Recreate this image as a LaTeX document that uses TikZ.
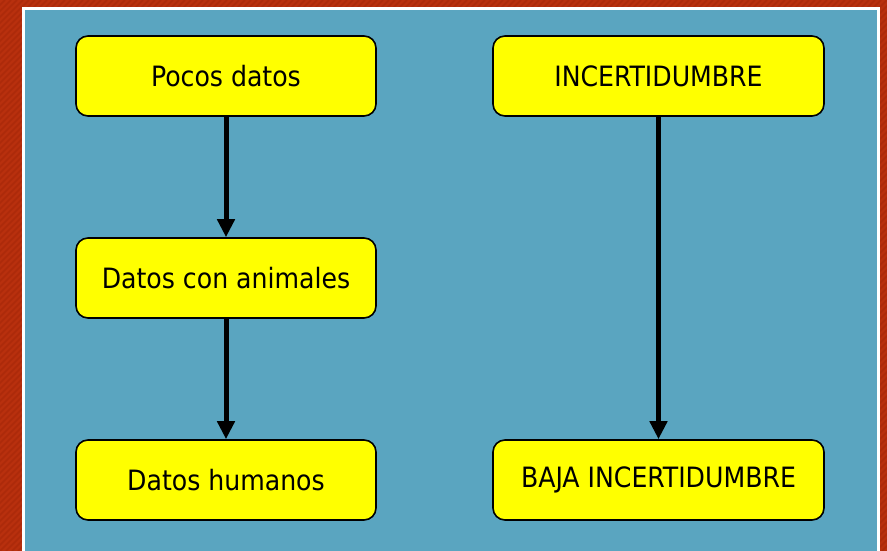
\documentclass[tikz,border=0pt]{standalone}
\usepackage{fontspec}
\setmainfont{DejaVu Sans Condensed}
\usetikzlibrary{arrows.meta}
\definecolor{bgred}{HTML}{B8300E}
\definecolor{stripe}{HTML}{AC2A0A}
\definecolor{panel}{HTML}{5AA5C0}
\definecolor{boxy}{HTML}{FFFF00}
\begin{document}
\begin{tikzpicture}[x=1pt,y=-1pt,
  box/.style={draw=black,line width=1.6pt,fill=boxy,rounded corners=12pt,minimum width=300pt,minimum height=80pt,font=\fontsize{28}{32}\selectfont,inner sep=0pt},
  conn/.style={line width=5pt,-{Triangle[length=18pt,width=17pt]}}]
\useasboundingbox (0,0) rectangle (887,551);
\fill[bgred] (0,0) rectangle (887,551);
\begin{scope}
\clip (0,0) rectangle (887,551);
\foreach \i in {-600,-594,...,900} {
  \draw[stripe,line width=1.5pt] (\i,551) -- (\i+551,0);
}
\end{scope}
\fill[white] (22,7) rectangle (880,551);
\fill[panel] (25,10) rectangle (877,551);
\node[box] (a) at (226,76) {Pocos datos};
\node[box] (b) at (226,278) {Datos con animales};
\node[box] (c) at (226,480) {Datos humanos};
\node[box,minimum width=331pt] (d) at (658.5,76) {INCERTIDUMBRE};
\node[box,minimum width=331pt] (e) at (658.5,480) {BAJA INCERTIDUMBRE};
\draw[conn] (a) -- (b);
\draw[conn] (b) -- (c);
\draw[conn] (d) -- (e);
\end{tikzpicture}
\end{document}
